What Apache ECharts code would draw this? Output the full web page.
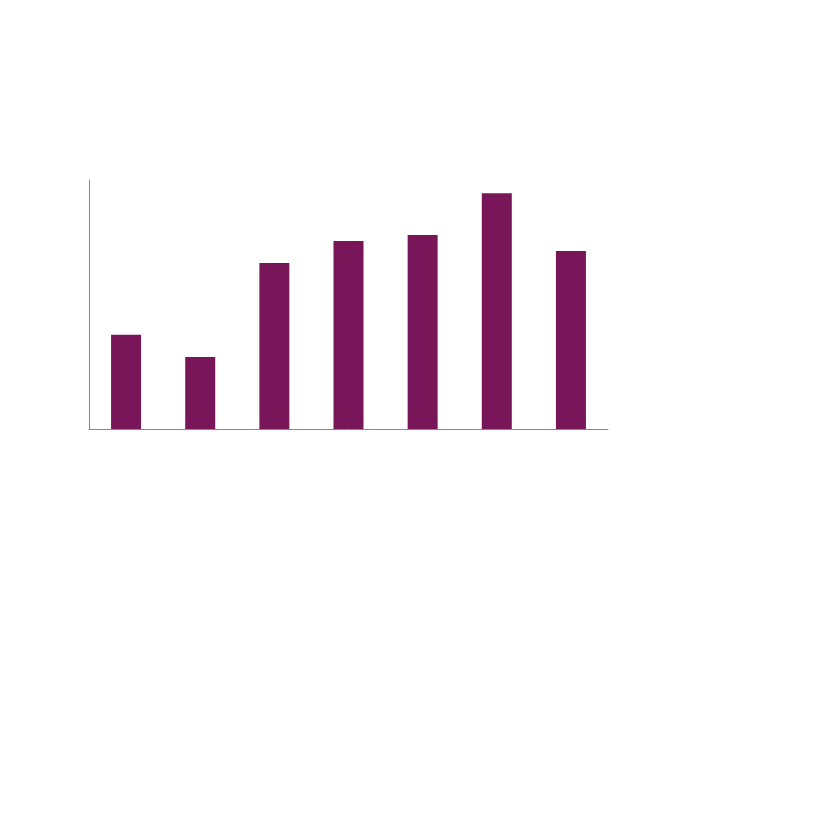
<!DOCTYPE html>
<html>
<head>
<meta charset="utf-8">
<script src="https://cdn.jsdelivr.net/npm/echarts@6/dist/echarts.min.js"></script>
<style>
  html, body { margin: 0; padding: 0; background: #fff; }
  #chart { width: 827px; height: 827px; }
</style>
</head>
<body>
<div id="chart"></div>
<script>
// 数据
const categories = ['1', '2', '3', '4', '5', '6', '7'];
const values = [37.9, 28.9, 66.7, 75.5, 77.9, 94.7, 71.5];
const yMax = 100;

const chart = echarts.init(document.getElementById('chart'));

const option = {
    animation: false,
    grid: {
        left: 89,
        right: 219,
        top: 180,
        bottom: 398
    },
    xAxis: {
        type: 'category',
        data: categories,
        axisLine: { lineStyle: { color: '#888', width: 1 } },
        axisTick: { show: false },
        axisLabel: { show: false }
    },
    yAxis: {
        type: 'value',
        min: 0,
        max: yMax,
        axisLine: { show: true, lineStyle: { color: '#888', width: 1 } },
        axisTick: { show: false },
        axisLabel: { show: false },
        splitLine: { show: false }
    },
    series: [
        {
            type: 'bar',
            data: values,
            barWidth: 30,
            itemStyle: { color: '#79165A' }
        }
    ]
};

chart.setOption(option);
</script>
</body>
</html>
